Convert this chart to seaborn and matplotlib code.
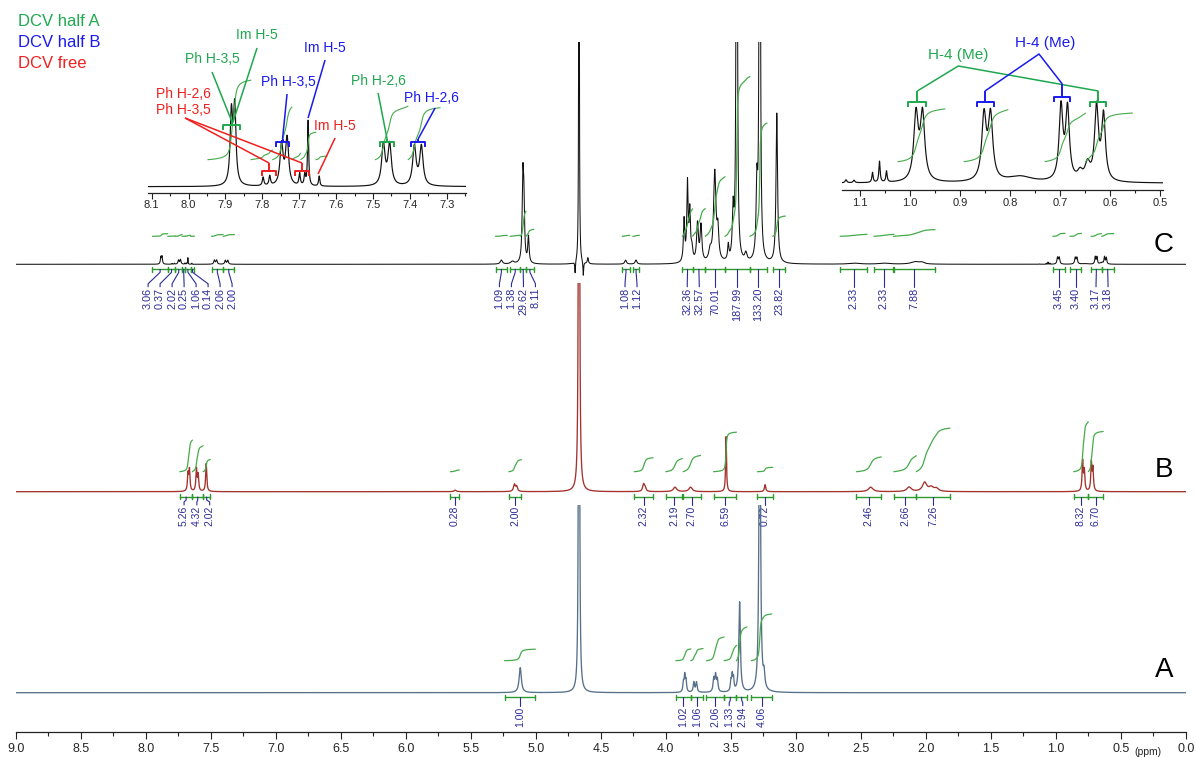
import numpy as np
import pandas as pd
import matplotlib
matplotlib.use("Agg")
import matplotlib.pyplot as plt
import seaborn as sns
from matplotlib.ticker import MultipleLocator, FormatStrFormatter

# ---------------- data ----------------
# peaks: chemical shift (ppm), height (px above baseline), half width (ppm)
c_shift = [7.884, 7.875, 7.798, 7.780, 7.748, 7.733, 7.699, 7.685, 7.676, 7.646,
           7.472, 7.455, 7.388, 7.369,
           5.265, 5.180, 5.100, 5.092, 5.057,
           4.668, 4.698, 4.635, 4.600, 4.310, 4.230,
           3.860, 3.834, 3.816, 3.800, 3.757, 3.730, 3.660, 3.624, 3.600,
           3.520, 3.483, 3.455, 3.385, 3.300, 3.278, 3.147,
           2.550, 2.320, 2.080, 2.030,
           1.128, 1.112, 1.075, 1.061, 1.047,
           0.988, 0.975, 0.852, 0.839, 0.780, 0.698, 0.685, 0.660, 0.645, 0.627, 0.613]
c_height = [7.0, 7.6, 0.85, 0.95, 4.1, 4.7, 1.2, 1.05, 6.5, 1.0,
            4.1, 4.1, 3.9, 3.9,
            4.0, 2.5, 80.0, 55.0, 26.0,
            800.0, -12.0, -14.0, 6.0, 4.0, 4.0,
            42.0, 78.0, 48.0, 12.0, 38.0, 36.0, 10.0, 90.0, 28.0,
            15.0, 48.0, 900.0, 8.0, 70.0, 900.0, 150.0,
            1.0, 1.0, 2.5, 1.5,
            0.3, 0.25, 1.0, 2.1, 1.1,
            6.6, 6.6, 6.4, 6.4, 0.6, 7.3, 7.1, 0.8, 1.6, 7.3, 6.5]
c_hw = [0.004, 0.004, 0.0025, 0.0025, 0.005, 0.005, 0.0022, 0.0022, 0.0018, 0.002,
        0.0055, 0.0055, 0.0055, 0.0055,
        0.01, 0.015, 0.006, 0.006, 0.006,
        0.002, 0.003, 0.003, 0.005, 0.008, 0.008,
        0.006, 0.006, 0.006, 0.008, 0.008, 0.008, 0.012, 0.011, 0.008,
        0.006, 0.007, 0.004, 0.01, 0.007, 0.004, 0.007,
        0.05, 0.05, 0.04, 0.02,
        0.002, 0.002, 0.0015, 0.0015, 0.0015,
        0.0053, 0.0053, 0.0053, 0.0053, 0.03, 0.0045, 0.0045, 0.006, 0.006, 0.0045, 0.0045]

b_shift = [7.675, 7.664, 7.610, 7.597, 7.535, 5.620, 5.165, 5.148, 4.668,
           4.172, 4.160, 3.930, 3.810, 3.537, 3.237, 2.425, 2.130, 2.010, 1.960, 1.920,
           0.795, 0.782, 0.728, 0.716]
b_height = [17.0, 21.0, 22.0, 16.0, 28.0, 1.5, 7.0, 5.0, 1500.0,
            7.0, 4.0, 4.5, 4.5, 55.0, 7.0, 4.5, 4.5, 9.0, 4.0, 3.0,
            30.0, 20.0, 28.0, 22.0]
b_hw = [0.005, 0.005, 0.005, 0.005, 0.005, 0.01, 0.008, 0.008, 0.0027,
        0.008, 0.008, 0.015, 0.015, 0.004, 0.006, 0.02, 0.02, 0.02, 0.02, 0.02,
        0.005, 0.005, 0.005, 0.005]

a_shift = [5.120, 4.668, 3.865, 3.855, 3.845, 3.785, 3.765,
           3.632, 3.618, 3.604, 3.500, 3.490, 3.480, 3.433, 3.278, 3.245]
a_height = [25.0, 1500.0, 9.0, 16.0, 11.0, 10.0, 10.0,
            13.0, 16.0, 12.0, 10.0, 15.0, 12.0, 90.0, 400.0, 14.0]
a_hw = [0.01, 0.0025, 0.005, 0.005, 0.005, 0.006, 0.006,
        0.006, 0.006, 0.006, 0.005, 0.005, 0.005, 0.007, 0.006, 0.007]

# integral regions (ppm start, ppm end, value)
c_int_start = [7.948, 7.831, 7.772, 7.720, 7.696, 7.655, 7.494, 7.405,
               5.310, 5.198, 5.119, 5.075, 4.336, 4.254,
               3.873, 3.794, 3.697, 3.545, 3.354, 3.178,
               2.660, 2.400, 2.250, 1.024, 0.892, 0.730, 0.649]
c_int_end = [7.831, 7.772, 7.720, 7.696, 7.655, 7.625, 7.405, 7.318,
             5.220, 5.119, 5.075, 5.016, 4.278, 4.204,
             3.794, 3.697, 3.545, 3.354, 3.223, 3.081,
             2.452, 2.246, 1.930, 0.930, 0.804, 0.649, 0.555]
c_int_value = [3.06, 0.37, 2.02, 0.25, 1.06, 0.14, 2.06, 2.00,
               1.09, 1.38, 29.62, 8.11, 1.08, 1.12,
               32.36, 32.57, 70.01, 187.99, 133.20, 23.82,
               2.33, 2.33, 7.88, 3.45, 3.40, 3.17, 3.18]

b_int_start = [7.738, 7.641, 7.559, 5.657, 5.207, 4.243, 4.000, 3.867, 3.633, 3.296,
               2.534, 2.247, 2.074, 0.864, 0.751]
b_int_end = [7.641, 7.559, 7.503, 5.588, 5.111, 4.098, 3.873, 3.733, 3.457, 3.178,
             2.343, 2.074, 1.816, 0.751, 0.637]
b_int_value = [5.26, 4.32, 2.02, 0.28, 2.00, 2.32, 2.19, 2.70, 6.59, 0.72,
               2.46, 2.66, 7.26, 8.32, 6.70]

a_int_start = [5.240, 3.923, 3.808, 3.688, 3.552, 3.457, 3.343]
a_int_end = [5.004, 3.808, 3.714, 3.552, 3.457, 3.377, 3.186]
a_int_value = [1.00, 1.02, 1.06, 2.06, 1.33, 2.94, 4.06]

trace_names = ["C", "B", "A"]
legend_names = ["DCV half A", "DCV half B", "DCV free"]
main_ticks_major = 0.5
inset_ticks_major = 0.1

# ---------------- style ----------------
W, H, DPI = 1196, 758, 100
X_LEFT, X_RIGHT = 15.7, 1186.0          # pixel columns of 9.0 and 0.0 ppm
PX_PER_PPM = (X_RIGHT - X_LEFT) / 9.0
GREEN_T, BLUE_T, RED_T = "#1fa84f", "#1a1aee", "#f02020"
INT_GREEN, BAR_GREEN, NAVY = "#45ab4a", "#2e9a2e", "#2b2b98"
COL_C, COL_B, COL_A = "#111111", "#a3312c", "#56708a"

sns.set_theme(style="white")
plt.rcParams["font.family"] = ["Liberation Sans", "DejaVu Sans"]

fig = plt.figure(figsize=(W / DPI, H / DPI), dpi=DPI)
fig.patch.set_facecolor("white")


def lorentz_sum(grid, shifts, heights, widths):
    y = np.zeros_like(grid)
    for s, h, w in zip(shifts, heights, widths):
        y += h / (1.0 + ((grid - s) / w) ** 2)
    return y


def px_axes(left, top, right, bottom):
    ax = fig.add_axes([left / W, 1 - bottom / H, (right - left) / W, (bottom - top) / H])
    ax.set_facecolor("none")
    return ax


def trace_axes(top, baseline, bottom):
    ax = px_axes(X_LEFT, top, X_RIGHT, bottom)
    ax.set_xlim(9.0, 0.0)
    ax.set_ylim(baseline - bottom, baseline - top)
    for s in ax.spines.values():
        s.set_visible(False)
    ax.set_xticks([])
    ax.set_yticks([])
    return ax


def spread(xs, gap):
    v = np.array(xs, float)
    order = np.argsort(v)
    v = v[order]
    for _ in range(400):
        moved = False
        for i in range(1, len(v)):
            d = v[i] - v[i - 1]
            if d < gap - 1e-9:
                p = (gap - d) / 2
                v[i - 1] -= p
                v[i] += p
                moved = True
        if not moved:
            break
    out = np.empty_like(v)
    out[order] = v
    return out


def integral_curves(ax, grid, spec, starts, ends, values, k, offset, lo, hi, lw=0.9):
    for s, e, v in zip(starts, ends, values):
        if e < lo or s > hi:
            continue
        m = (grid <= s) & (grid >= e)
        cum = np.cumsum(np.clip(spec[m], 0, None) + 1e-3)
        cum = cum / cum[-1]
        sns.lineplot(x=grid[m], y=offset + k * v * cum, ax=ax, color=INT_GREEN,
                     lw=lw, estimator=None, sort=False)


def integral_labels(ax, starts, ends, values, bar_y, label_top, gap_px, fs):
    starts, ends = np.array(starts), np.array(ends)
    for s, e in zip(starts, ends):
        ax.plot([s, e], [bar_y, bar_y], color=BAR_GREEN, lw=1.0)
        for xb in (s, e):
            ax.plot([xb, xb], [bar_y - 2.5, bar_y + 2.5], color=BAR_GREEN, lw=1.0)
    centers = (starts + ends) / 2
    lab = spread(centers, gap_px / PX_PER_PPM)
    for c, lx, v in zip(centers, lab, values):
        ax.plot([c, c, lx, lx], [bar_y, bar_y - 3, label_top + 4, label_top + 1],
                color=NAVY, lw=0.8)
        ax.text(lx, label_top, f"{v:.2f}", rotation=90, ha="center", va="top",
                fontsize=fs, color=NAVY)


grid = np.linspace(9.0, 0.0, 45001)
spectra = {
    "C": lorentz_sum(grid, c_shift, c_height, c_hw),
    "B": lorentz_sum(grid, b_shift, b_height, b_hw),
    "A": lorentz_sum(grid, a_shift, a_height, a_hw),
}

# (top clip, baseline, bottom) in pixels, colour, line width, integral settings
layout = {
    "C": dict(top=42, base=264.3, bottom=330, color=COL_C, lw=0.75, k=0.85, off=28,
              bar=-5, lab=-23.5, gap=12.0, fs=7.8, ly=245,
              ints=(c_int_start, c_int_end, c_int_value)),
    "B": dict(top=283, base=491.7, bottom=560, color=COL_B, lw=0.95, k=6.0, off=20,
              bar=-5.3, lab=-14.3, gap=12.8, fs=7.5, ly=470,
              ints=(b_int_start, b_int_end, b_int_value)),
    "A": dict(top=505, base=692.7, bottom=732, color=COL_A, lw=0.95, k=11.5, off=32,
              bar=-4.6, lab=-14, gap=13.5, fs=7.5, ly=670,
              ints=(a_int_start, a_int_end, a_int_value)),
}

axes = {}
for name in trace_names:
    L = layout[name]
    ax = trace_axes(L["top"], L["base"], L["bottom"])
    df = pd.DataFrame({"ppm": grid, "y": spectra[name]})
    sns.lineplot(data=df, x="ppm", y="y", ax=ax, color=L["color"], lw=L["lw"],
                 estimator=None, sort=False)
    st, en, va = L["ints"]
    integral_curves(ax, grid, spectra[name], st, en, va, L["k"], L["off"], 0, 9)
    integral_labels(ax, st, en, va, L["bar"], L["lab"], L["gap"], L["fs"])
    ax.set_xlabel("")
    ax.set_ylabel("")
    fig.text(1164 / W, 1 - L["ly"] / H, name, fontsize=20, ha="center", va="center",
             color="black")
    axes[name] = ax

# ppm axis on bottom trace
ax_a = axes["A"]
ax_a.spines["bottom"].set_visible(True)
ax_a.spines["bottom"].set_color("#222222")
ax_a.spines["bottom"].set_linewidth(0.9)
ax_a.xaxis.set_major_locator(MultipleLocator(main_ticks_major))
ax_a.xaxis.set_minor_locator(MultipleLocator(main_ticks_major / 2))
ax_a.xaxis.set_major_formatter(FormatStrFormatter("%.1f"))
ax_a.tick_params(axis="x", which="major", bottom=True, direction="out", length=5,
                 width=0.8, labelsize=9, pad=3, color="#222222")
ax_a.tick_params(axis="x", which="minor", bottom=True, direction="out", length=3,
                 width=0.8, color="#222222")
fig.text(1148 / W, 1 - 752 / H, "(ppm)", fontsize=7.5, ha="center", va="center")


# ---------------- insets (spectrum C expanded x10) ----------------
def inset(left, top, right, bottom, base, x0, x1):
    ax = px_axes(left, top, right, bottom)
    ax.set_xlim(x0, x1)
    ax.set_ylim(base - bottom, base - top)
    for s in ["top", "left", "right"]:
        ax.spines[s].set_visible(False)
    ax.spines["bottom"].set_color("#222222")
    ax.spines["bottom"].set_linewidth(0.9)
    ax.set_yticks([])
    ax.xaxis.set_major_locator(MultipleLocator(inset_ticks_major))
    ax.xaxis.set_minor_locator(MultipleLocator(inset_ticks_major / 2))
    ax.xaxis.set_major_formatter(FormatStrFormatter("%.1f"))
    ax.tick_params(axis="x", which="major", bottom=True, direction="out", length=4,
                   width=0.8, labelsize=8, pad=1.5, color="#222222")
    ax.tick_params(axis="x", which="minor", bottom=True, direction="out", length=2.5,
                   width=0.8, color="#222222")
    g = np.linspace(x0, x1, 12001)
    sp = 10 * lorentz_sum(g, c_shift, c_height, c_hw)
    sns.lineplot(x=g, y=sp, ax=ax, color=COL_C, lw=0.85, estimator=None, sort=False)
    ax.set_xlabel("")
    ax.set_ylabel("")
    return ax, g, sp


# aromatic inset: pixel -> data helpers
ax1, g1, s1 = inset(148, 30, 466, 192.7, 186.7, 8.11, 7.248)
integral_curves(ax1, g1, s1, c_int_start, c_int_end, c_int_value, 26, 27, 7.248, 8.11, lw=0.8)
P1 = lambda x: 8.1 - (x - 151.7) / 368.75
Y1 = lambda y: 186.7 - y

ax2, g2, s2 = inset(841.7, 20, 1163.3, 190, 183.3, 1.1366, 0.4934)
integral_curves(ax2, g2, s2, c_int_start, c_int_end, c_int_value, 15.3, 21.6, 0.4934, 1.1366, lw=0.8)
P2 = lambda x: 1.1 - (x - 860) / 500
Y2 = lambda y: 183.3 - y


def seg(ax, P, Y, pts, color, lw=1.1):
    ax.plot([P(p[0]) for p in pts], [Y(p[1]) for p in pts], color=color, lw=lw,
            clip_on=False, solid_capstyle="butt")


def brack(ax, P, Y, x0, x1, ybar, ystem, color):
    seg(ax, P, Y, [(x0, ybar + 5), (x0, ybar), (x1, ybar), (x1, ybar + 5)], color, lw=1.4)
    xm = (x0 + x1) / 2
    seg(ax, P, Y, [(xm, ystem), (xm, ybar)], color, lw=1.4)


def lab(ax, P, Y, x, y, txt, color, fs=10):
    ax.text(P(x), Y(y), txt, color=color, fontsize=fs, ha="center", va="center",
            linespacing=1.15, clip_on=False)


# inset 1 annotations
lab(ax1, P1, Y1, 256.7, 35, "Im H-5", GREEN_T)
lab(ax1, P1, Y1, 212.5, 59, "Ph H-3,5", GREEN_T)
seg(ax1, P1, Y1, [(257, 48), (233, 122)], GREEN_T)
seg(ax1, P1, Y1, [(212, 72), (232, 122)], GREEN_T)
brack(ax1, P1, Y1, 223, 240, 125, 122, GREEN_T)

lab(ax1, P1, Y1, 288.3, 82.5, "Ph H-3,5", BLUE_T)
seg(ax1, P1, Y1, [(287, 94), (282.5, 139)], BLUE_T)
brack(ax1, P1, Y1, 276, 289, 142, 139, BLUE_T)
lab(ax1, P1, Y1, 325, 47.5, "Im H-5", BLUE_T)
seg(ax1, P1, Y1, [(325, 60), (308, 118)], BLUE_T)

lab(ax1, P1, Y1, 183.3, 101.7, "Ph H-2,6\nPh H-3,5", RED_T)
seg(ax1, P1, Y1, [(185, 118), (269, 163)], RED_T)
seg(ax1, P1, Y1, [(185, 118), (302, 163)], RED_T)
brack(ax1, P1, Y1, 262, 276, 170.5, 163, RED_T)
brack(ax1, P1, Y1, 295, 309, 170.5, 163, RED_T)
lab(ax1, P1, Y1, 335, 125.8, "Im H-5", RED_T)
seg(ax1, P1, Y1, [(335, 138), (318, 174)], RED_T)

lab(ax1, P1, Y1, 378.3, 80.8, "Ph H-2,6", GREEN_T)
seg(ax1, P1, Y1, [(378, 93), (387, 139)], GREEN_T)
brack(ax1, P1, Y1, 380, 394, 142, 139, GREEN_T)
lab(ax1, P1, Y1, 431.7, 97.5, "Ph H-2,6", BLUE_T)
seg(ax1, P1, Y1, [(435, 108), (418, 139)], BLUE_T)
brack(ax1, P1, Y1, 411, 425, 142, 139, BLUE_T)

# inset 2 annotations
lab(ax2, P2, Y2, 958.3, 55, "H-4 (Me)", GREEN_T, fs=11)
seg(ax2, P2, Y2, [(917.3, 91), (958.3, 66), (1098.3, 91)], GREEN_T)
brack(ax2, P2, Y2, 908.3, 926, 101.7, 91, GREEN_T)
brack(ax2, P2, Y2, 1090, 1106, 101.7, 91, GREEN_T)
lab(ax2, P2, Y2, 1045, 42.5, "H-4 (Me)", BLUE_T, fs=11)
seg(ax2, P2, Y2, [(985, 91), (1039, 54), (1062.3, 84)], BLUE_T)
brack(ax2, P2, Y2, 976.7, 994, 101.7, 91, BLUE_T)
brack(ax2, P2, Y2, 1054, 1070, 96.7, 84, BLUE_T)

# legend of the colour code
for i, (txt, col) in enumerate(zip(legend_names, [GREEN_T, BLUE_T, RED_T])):
    fig.text(18 / W, 1 - (22 + 20.5 * i) / H, txt, color=col, fontsize=12,
             ha="left", va="center")

fig.savefig("out.png", dpi=DPI, facecolor="white")
